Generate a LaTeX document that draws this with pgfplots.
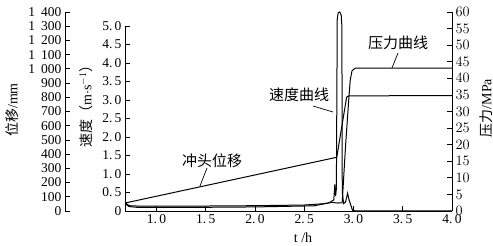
\documentclass[border=0pt]{standalone}
\usepackage{pgfplots}
\pgfplotsset{compat=1.18}
\usepackage{fontspec}
\setmainfont{Liberation Serif}
\newfontfamily\cjk{Noto Sans CJK SC}

\begin{document}
\begin{tikzpicture}
\useasboundingbox (0pt,0pt) rectangle (493pt,246pt);
\pgfplotsset{
  common/.style={scale only axis, anchor=south west, xmin=0.68, xmax=4.0,
    tick align=inside, major tick length=5pt,
    axis line style={-, line width=0.8pt},
    every tick/.style={line width=0.8pt, black},
    tick label style={font=\fontsize{13.5}{15}\selectfont}},
  curve/.style={black, line width=1pt, no markers},
}
% velocity (main) axis
\begin{axis}[common, at={(125pt,35pt)}, width=327pt, height=185pt,
  ymin=0, ymax=5, clip=false,
  axis x line*=bottom, axis y line*=left,
  xtick={1,1.5,2,2.5,3,3.5,4},
  xticklabels={1.\,0,1.\,5,2.\,0,2.\,5,3.\,0,3.\,5,4.\,0},
  ytick={0,0.5,1,1.5,2,2.5,3,3.5,4,4.5,5},
  yticklabels={0,0.\,5,1.\,0,1.\,5,2.\,0,2.\,5,3.\,0,3.\,5,4.\,0,4.\,5,5.\,0}]
\addplot[curve] coordinates {(0.68,0.20) (0.72,0.12) (0.80,0.10) (1.5,0.10) (2.0,0.11)
 (2.6,0.14) (2.75,0.22) (2.80,0.30) (2.81,0.72) (2.818,0.40) (2.826,0.6)
 (2.835,5.2) (2.845,5.36) (2.86,5.38) (2.875,5.3) (2.882,5.0) (2.886,0.5)
 (2.90,0.2) (2.92,0.25) (2.94,0.48) (2.955,0.3) (2.99,0.02) (3.02,0) (4.0,0)};
\end{axis}
% pressure axis (right)
\begin{axis}[common, at={(125pt,35pt)}, width=327pt, height=199pt,
  ymin=0, ymax=60, axis y line*=right, axis x line=none, xtick=\empty,
  ytick={0,5,10,15,20,25,30,35,40,45,50,55,60}]
\addplot[curve] coordinates {(0.68,2.6) (0.72,1.6) (0.80,1.5) (1.5,1.5) (2.0,1.6)
 (2.5,1.8) (2.7,2.2) (2.78,2.6) (2.84,2.4) (2.885,2.5) (2.92,20) (2.955,35)
 (2.967,39.5) (2.985,42.3) (3.02,43.1) (4.0,43.1)};
\end{axis}
% displacement data
\begin{axis}[common, at={(125pt,35pt)}, width=327pt, height=199pt,
  ymin=0, ymax=1400, hide axis]
\addplot[curve] coordinates {(0.68,56) (2.83,378) (2.93,800) (2.95,810) (4.0,812)};
\end{axis}
% displacement frame (outer left)
\begin{axis}[common, at={(65pt,35pt)}, width=60pt, height=199pt, xmin=0, xmax=1,
  ymin=0, ymax=1400, axis y line*=left, axis x line=none, xtick=\empty,
  ytick={0,100,200,300,400,500,600,700,800,900,1000,1100,1200,1300,1400},
  yticklabels={0,100,200,300,400,500,600,700,800,900,1\hspace{0.45em}000,1\hspace{0.45em}100,1\hspace{0.45em}200,1\hspace{0.45em}300,1\hspace{0.45em}400}]
\end{axis}
% axis labels
\node[rotate=90, font=\fontsize{14}{16}\selectfont] at (12pt,136pt) {{\cjk 位移}/mm};
\node[rotate=90, font=\fontsize{14}{16}\selectfont] at (86pt,143pt) {{\cjk 速度（}m$\cdot$s$^{-1}${\cjk ）}};
\node[rotate=90, font=\fontsize{14}{16}\selectfont] at (486pt,138pt) {{\cjk 压力}/MPa};
\node[font=\fontsize{14}{16}\selectfont] at (303pt,8pt) {t /h};
% annotations
\node[font=\cjk\fontsize{15}{17}\selectfont] at (212pt,85pt) {冲头位移};
\draw[line width=0.7pt] (207pt,78pt) -- (200pt,60pt);
\node[font=\cjk\fontsize{15}{17}\selectfont] at (299pt,151pt) {速度曲线};
\draw[line width=0.7pt] (313pt,140pt) -- (333pt,134pt);
\node[font=\cjk\fontsize{15}{17}\selectfont] at (398pt,203pt) {压力曲线};
\draw[line width=0.7pt] (398pt,193pt) -- (392pt,178pt);
\end{tikzpicture}
\end{document}
